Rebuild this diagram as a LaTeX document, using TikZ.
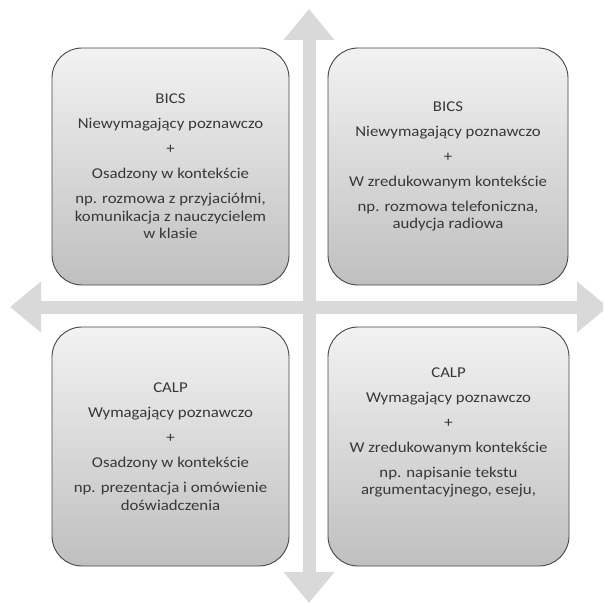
\documentclass[tikz,border=0pt]{standalone}
\usepackage{fontspec}
\setmainfont{Carlito}[FakeStretch=1.12]
\usetikzlibrary{arrows.meta}
\tikzset{
  quadbox/.style={draw=gray!55!black, line width=0.9pt, rounded corners=30pt,
    top color=gray!10, bottom color=gray!50, inner sep=0pt},
  quadtext/.style={align=center, text=black!78, inner sep=0pt,
    font=\fontsize{15}{17.5}\selectfont},
  axisarrow/.style={draw=gray!30, line width=13pt,
    {Triangle[width=49pt,length=31pt]}-{Triangle[width=49pt,length=31pt]}}
}
\begin{document}
\begin{tikzpicture}[x=1pt,y=-1pt]
\useasboundingbox (0,0) rectangle (603,604);
\clip (0,0) rectangle (603,604);
\fill[white] (0,0) rectangle (603,604);
% axes
\coordinate (L) at (10,307);
\coordinate (R) at (608,307);
\coordinate (T) at (309,9);
\coordinate (B) at (309,603);
\draw[axisarrow] (L) -- (R);
\draw[axisarrow] (T) -- (B);
% boxes
\node[quadbox, minimum width=237pt, minimum height=237pt] (tl) at (170.5,166.5) {};
\node[quadbox, minimum width=240pt, minimum height=237pt] (tr) at (448,166.5) {};
\node[quadbox, minimum width=237pt, minimum height=239pt] (bl) at (170.5,446.5) {};
\node[quadbox, minimum width=241pt, minimum height=239pt] (br) at (448.5,446.5) {};
% texts
\node[quadtext] (tltext) at (tl.center) {BICS\\[7.5pt]
Niewymagający poznawczo\\[7.5pt]
+\\[7.5pt]
Osadzony w kontekście\\[7.5pt]
np. rozmowa z przyjaciółmi,\\
komunikacja z nauczycielem\\
w klasie};
\node[quadtext] (trtext) at (tr.center) {BICS\\[7.5pt]
Niewymagający poznawczo\\[7.5pt]
+\\[7.5pt]
W zredukowanym kontekście\\[7.5pt]
np. rozmowa telefoniczna,\\
audycja radiowa};
\node[quadtext] (bltext) at (bl.center) {CALP\\[7.5pt]
Wymagający poznawczo\\[7.5pt]
+\\[7.5pt]
Osadzony w kontekście\\[7.5pt]
np. prezentacja i omówienie\\
doświadczenia};
\node[quadtext] (brtext) at ([yshift=14pt]br.center) {CALP\\[7.5pt]
Wymagający poznawczo\\[7.5pt]
+\\[7.5pt]
W zredukowanym kontekście\\[7.5pt]
np. napisanie tekstu\\
argumentacyjnego, eseju,};
\end{tikzpicture}
\end{document}
